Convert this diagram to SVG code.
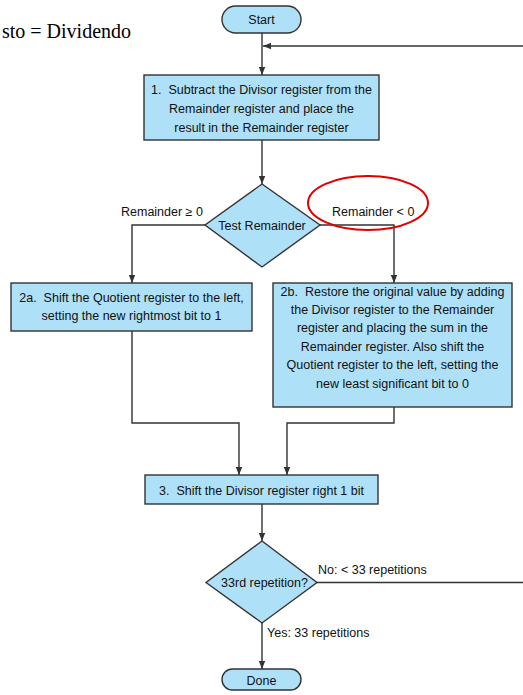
<svg xmlns="http://www.w3.org/2000/svg" width="523" height="695" viewBox="0 0 523 695">
<defs>
<marker id="arr" markerUnits="userSpaceOnUse" markerWidth="8" markerHeight="8" viewBox="0 0 8 8" refX="8" refY="4" orient="auto">
<path d="M0,0.8 L8,4 L0,7.2 Z" fill="#333"/>
</marker>
<style>
.box{fill:#AEE0F7;stroke:#333;stroke-width:1.4}
.t{font-family:"Liberation Sans",Arial,sans-serif;font-size:12.5px;fill:#111;text-anchor:middle;white-space:pre}
.lbl{font-family:"Liberation Sans",Arial,sans-serif;font-size:12.5px;fill:#111}
.c{fill:none;stroke:#333;stroke-width:1.4}
</style>
</defs>
<rect width="523" height="695" fill="#fff"/>
<text x="2" y="38" font-family="'Liberation Serif','Times New Roman',serif" font-size="20" fill="#000">sto = Dividendo</text>

<g id="connectors">
<path class="c" d="M262,33 V75" marker-end="url(#arr)"/>
<path class="c" d="M523,46 H263" marker-end="url(#arr)"/>
<path class="c" d="M262,140 V184" marker-end="url(#arr)"/>
<path class="c" d="M205,225 H132 V283" marker-end="url(#arr)"/>
<path class="c" d="M320,225 H394 V283" marker-end="url(#arr)"/>
<path class="c" d="M132,331 V423 H239 V475" marker-end="url(#arr)"/>
<path class="c" d="M394,407 V423 H287 V475" marker-end="url(#arr)"/>
<path class="c" d="M262,504 V541" marker-end="url(#arr)"/>
<path class="c" d="M317,582.5 H523"/>
<path class="c" d="M262,623 V669" marker-end="url(#arr)"/>
<text class="lbl" x="121" y="216">Remainder ≥ 0</text>
<text class="lbl" x="332" y="216">Remainder &lt; 0</text>
<text class="lbl" x="318" y="574">No: &lt; 33 repetitions</text>
<text class="lbl" x="267" y="637">Yes: 33 repetitions</text>
</g>

<g id="start">
<rect class="box" x="222" y="6" width="79" height="27" rx="13.5"/>
<text class="t" x="261.5" y="24">Start</text>
</g>

<g id="step1">
<rect class="box" x="144" y="75" width="235" height="65"/>
<text class="t" x="261.5" y="94">1.  Subtract the Divisor register from the</text>
<text class="t" x="261.5" y="113">Remainder register and place the</text>
<text class="t" x="261.5" y="132">result in the Remainder register</text>
</g>

<g id="test">
<polygon class="box" points="262,184 320,225 262,267 205,225"/>
<text class="t" x="262" y="229.5" font-size="13.5">Test Remainder</text>
</g>

<g id="step2a">
<rect class="box" x="11" y="283" width="241" height="48"/>
<text class="t" x="131.5" y="302">2a.  Shift the Quotient register to the left,</text>
<text class="t" x="131.5" y="320">setting the new rightmost bit to 1</text>
</g>

<g id="step2b">
<rect class="box" x="273" y="283" width="239" height="124"/>
<text class="t" x="392.5" y="296">2b.  Restore the original value by adding</text>
<text class="t" x="392.5" y="314">the Divisor register to the Remainder</text>
<text class="t" x="392.5" y="332">register and placing the sum in the</text>
<text class="t" x="392.5" y="351">Remainder register. Also shift the</text>
<text class="t" x="392.5" y="369">Quotient register to the left, setting the</text>
<text class="t" x="392.5" y="388">new least significant bit to 0</text>
</g>

<g id="step3">
<rect class="box" x="145" y="475" width="233" height="29"/>
<text class="t" x="261.5" y="494.5">3.  Shift the Divisor register right 1 bit</text>
</g>

<g id="rep">
<polygon class="box" points="262,541 317,582.5 262,623 206,582.5"/>
<text class="t" x="264.5" y="587" font-size="13">33rd repetition?</text>
</g>

<g id="done">
<rect class="box" x="222" y="669" width="79" height="21" rx="10.5"/>
<text class="t" x="261.5" y="684.5">Done</text>
</g>

<ellipse cx="368" cy="203" rx="60" ry="27" fill="none" stroke="#E00000" stroke-width="2"/>
</svg>
